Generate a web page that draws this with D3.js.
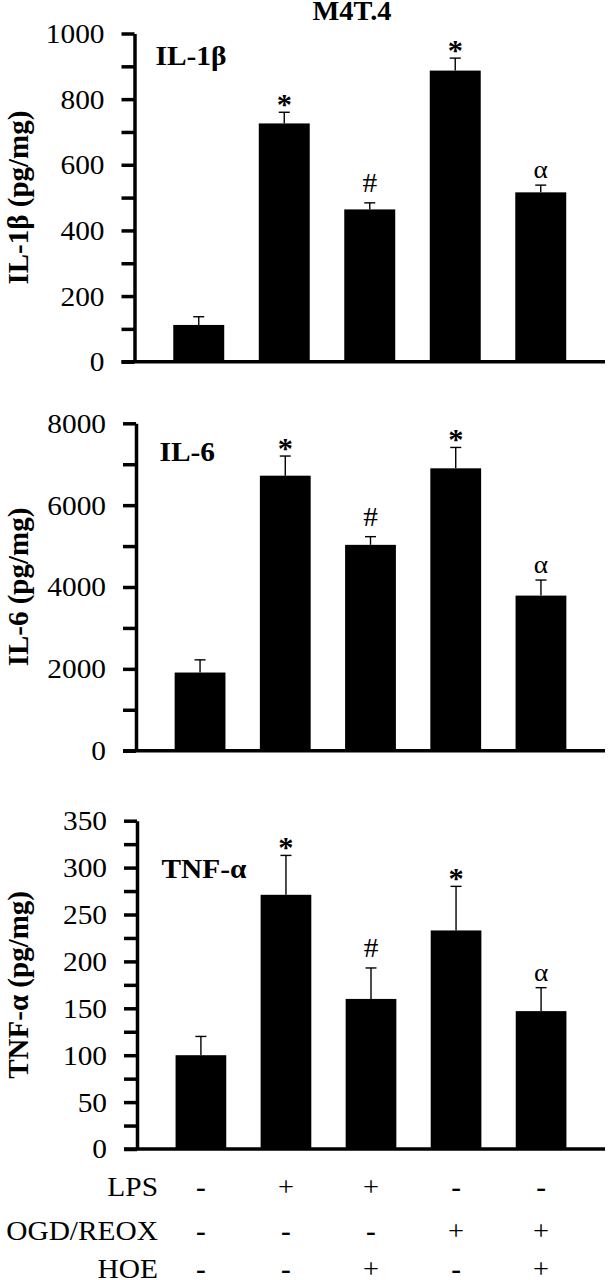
<!DOCTYPE html>
<html>
<head>
<meta charset="utf-8">
<script src="https://d3js.org/d3.v7.min.js"></script>
<style>
  body { margin: 0; background: #fff; }
  text { font-family: "Liberation Serif", "Times New Roman", serif; fill: #000; }
</style>
</head>
<body>
<script>
// treatment groups (columns)
const groups = ["Control", "LPS", "LPS+HOE", "OGD/REOX", "OGD/REOX+HOE"];

// values (mean, SEM above the bar)
const il1bMean = [112, 726, 464, 887, 516];
const il1bSem  = [25, 34, 20, 38, 22];
const il6Mean  = [1910, 6720, 5030, 6900, 3790];
const il6Sem   = [310, 480, 200, 510, 380];
const tnfMean  = [100, 271, 160, 233, 147];
const tnfSem   = [20, 42, 33, 47, 25];

// significance marks above bars
const marks = ["", "*", "#", "*", "\u03b1"];

// treatment table under the last panel
const rowNames = ["LPS", "OGD/REOX", "HOE"];
const lpsRow = ["-", "+", "+", "-", "-"];
const ogdRow = ["-", "-", "-", "+", "+"];
const hoeRow = ["-", "-", "+", "-", "+"];

const SX = 1.05;  // glyphs in the figure are a bit wider than plain Times

const svg = d3.select("body").append("svg")
  .attr("width", 609).attr("height", 1280);

function stext(g, x, y, txt, size, weight, anchor) {
  return g.append("text")
    .attr("transform", "translate(" + x + "," + y + ") scale(" + SX + ",1)")
    .attr("text-anchor", anchor || "start")
    .style("font-size", size + "px")
    .style("font-weight", weight || "normal")
    .text(txt);
}

// title (sits right at the top edge, as in the original)
stext(svg, 352, 20, "M4T.4", 27, "bold", "middle");

const panels = [
  {label: "IL-1\u03b2", ytitle: "IL-1\u03b2  (pg/mg)", mean: il1bMean, sem: il1bSem,
   max: 1000, major: 200, minor: 100, top: 33.5, bottom: 361.7, ax: 134.5, labX: 155.5, labY: 65},
  {label: "IL-6", ytitle: "IL-6 (pg/mg)", mean: il6Mean, sem: il6Sem,
   max: 8000, major: 2000, minor: 1000, top: 423.3, bottom: 750.7, ax: 136, labX: 159.5, labY: 461},
  {label: "TNF-\u03b1", ytitle: "TNF-\u03b1  (pg/mg)", mean: tnfMean, sem: tnfSem,
   max: 350, major: 50, minor: 25, top: 820.7, bottom: 1149, ax: 137, labX: 161.5, labY: 878}
];

let lastX;

panels.forEach(function(p) {
  const g = svg.append("g");

  const y = d3.scaleLinear().domain([0, p.max]).range([p.bottom, p.top]);
  const x = d3.scaleBand().domain(groups).range([p.ax, 605])
    .paddingInner(0.404).paddingOuter(0.4535);
  lastX = x;

  // bars
  g.selectAll("rect.bar").data(groups).enter().append("rect")
    .attr("class", "bar")
    .attr("x", d => x(d))
    .attr("width", x.bandwidth())
    .attr("y", (d, i) => y(p.mean[i]))
    .attr("height", (d, i) => p.bottom - y(p.mean[i]))
    .attr("fill", "#000");

  // error bars (upper only)
  const eb = g.selectAll("g.err").data(groups).enter().append("g").attr("class", "err");
  eb.append("line")
    .attr("x1", d => x(d) + x.bandwidth() / 2)
    .attr("x2", d => x(d) + x.bandwidth() / 2)
    .attr("y1", (d, i) => y(p.mean[i]))
    .attr("y2", (d, i) => y(p.mean[i] + p.sem[i]))
    .attr("stroke", "#000").attr("stroke-width", 1.4);
  eb.append("line")
    .attr("x1", d => x(d) + x.bandwidth() / 2 - 5.5)
    .attr("x2", d => x(d) + x.bandwidth() / 2 + 5.5)
    .attr("y1", (d, i) => y(p.mean[i] + p.sem[i]))
    .attr("y2", (d, i) => y(p.mean[i] + p.sem[i]))
    .attr("stroke", "#000").attr("stroke-width", 1.4);

  // significance marks
  groups.forEach(function(d, i) {
    const m = marks[i];
    if (!m) return;
    const cx = x(d) + x.bandwidth() / 2;
    const top = y(p.mean[i] + p.sem[i]);
    if (m === "*") stext(g, cx, top + 2, m, 29, "bold", "middle");
    else if (m === "#") stext(g, cx, top - 11, m, 28, "normal", "middle");
    else stext(g, cx, top - 7, m, 26, "normal", "middle");
  });

  // y axis
  const ticks = d3.range(0, p.max + p.minor / 2, p.minor);
  const axis = g.append("g")
    .attr("transform", "translate(" + p.ax + ",0)")
    .call(d3.axisLeft(y).tickValues(ticks).tickSize(13).tickSizeOuter(0)
      .tickFormat(d => (Math.round(d / p.major) * p.major === d) ? d : ""));
  axis.select(".domain").attr("stroke", "#000").attr("stroke-width", 3.5);
  axis.selectAll(".tick line").attr("stroke", "#000").attr("stroke-width", 3.5);
  axis.selectAll(".tick text")
    .attr("x", -30 / SX)
    .attr("transform", "scale(" + SX + ",1)")
    .style("font-size", "28px")
    .style("font-family", "'Liberation Serif', 'Times New Roman', serif")
    .attr("fill", "#000");

  // x axis baseline
  g.append("line")
    .attr("x1", p.ax - 13).attr("x2", 605)
    .attr("y1", p.bottom).attr("y2", p.bottom)
    .attr("stroke", "#000").attr("stroke-width", 3.5);

  // panel label
  stext(g, p.labX, p.labY, p.label, 28, "bold", "start");

  // y title
  g.append("text")
    .attr("transform", "translate(28," + ((p.top + p.bottom) / 2) + ") rotate(-90)")
    .attr("text-anchor", "middle")
    .style("font-size", "29px")
    .style("font-weight", "bold")
    .text(p.ytitle);
});

// treatment table
const rows = [lpsRow, ogdRow, hoeRow];
const rowY = [1196, 1240, 1278];
rows.forEach(function(r, k) {
  stext(svg, 158, rowY[k], rowNames[k], 28, "normal", "end");
  r.forEach(function(s, i) {
    const cx = lastX(groups[i]) + lastX.bandwidth() / 2;
    if (s === "-") stext(svg, cx, rowY[k], "-", 28, "bold", "middle");
    else stext(svg, cx, rowY[k], "+", 27, "normal", "middle");
  });
});
</script>
</body>
</html>
